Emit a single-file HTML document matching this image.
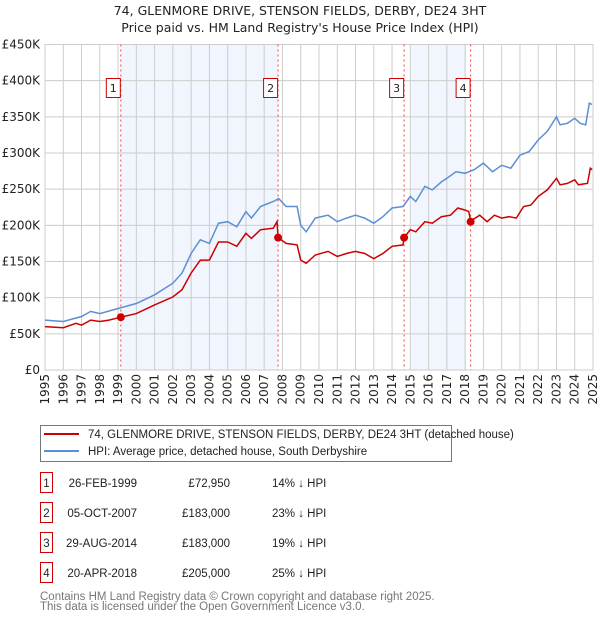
<!DOCTYPE html>
<html><head><meta charset="utf-8"><style>
body{margin:0;background:#fff;font-family:"DejaVu Sans","Liberation Sans",sans-serif;}
svg text{font-family:"DejaVu Sans","Liberation Sans",sans-serif;}
svg text.n{font-family:"Liberation Sans",sans-serif;}
</style></head><body>
<svg id="chart" width="600" height="620" xmlns="http://www.w3.org/2000/svg">
<text x="300" y="15" text-anchor="middle" font-size="12.5" fill="#222">74, GLENMORE DRIVE, STENSON FIELDS, DERBY, DE24 3HT</text>
<text x="300" y="32" text-anchor="middle" font-size="12.5" fill="#222">Price paid vs. HM Land Registry's House Price Index (HPI)</text>
<g id="plot"></g>
<g>
<rect x="40.5" y="425.5" width="411" height="36" fill="#fff" stroke="#777"/>
<line x1="44" y1="434" x2="79" y2="434" stroke="#cc0000" stroke-width="2"/>
<text class="n" x="88" y="438" font-size="11.5" fill="#222">74, GLENMORE DRIVE, STENSON FIELDS, DERBY, DE24 3HT (detached house)</text>
<line x1="44" y1="451" x2="79" y2="451" stroke="#5b8fd4" stroke-width="2"/>
<text class="n" x="88" y="455" font-size="11.5" fill="#222">HPI: Average price, detached house, South Derbyshire</text>
</g>
<g id="table"></g>
<text class="n" x="40" y="600" font-size="11.5" fill="#777">Contains HM Land Registry data © Crown copyright and database right 2025.</text>
<text class="n" x="40" y="610" font-size="11.5" fill="#777">This data is licensed under the Open Government Licence v3.0.</text>
</svg>
<script>
const hpiYears=[1995,1996,1997,1997.5,1998,1999,2000,2001,2002,2002.5,2003,2003.5,2004,2004.5,2005,2005.5,2006,2006.3,2006.8,2007.5,2007.8,2008.2,2008.8,2009,2009.3,2009.8,2010.5,2011,2011.5,2012,2012.5,2013,2013.5,2014,2014.6,2015,2015.3,2015.8,2016.2,2016.7,2017,2017.5,2018,2018.5,2019,2019.5,2020,2020.5,2021,2021.5,2022,2022.5,2023,2023.2,2023.6,2024,2024.3,2024.6,2024.8,2024.95];
const hpiValues=[69,67,74,81,78,85,92,104,120,134,161,180,175,203,205,198,219,210,226,233,237,226,226,200,191,210,214,205,210,214,210,203,212,224,226,240,233,254,249,260,265,274,272,277,286,274,283,279,297,302,318,330,350,339,341,348,341,339,369,367];
const propYears=[1995,1996,1996.7,1997,1997.5,1998,1998.5,1999.15,2000,2001,2002,2002.5,2003,2003.5,2004,2004.5,2005,2005.5,2006,2006.3,2006.8,2007.5,2007.7,2007.76,2008.2,2008.8,2009,2009.3,2009.8,2010.5,2011,2011.5,2012,2012.5,2013,2013.5,2014,2014.6,2014.66,2015,2015.3,2015.8,2016.2,2016.7,2017.2,2017.6,2018,2018.2,2018.3,2018.8,2019.2,2019.6,2020,2020.4,2020.8,2021.2,2021.6,2022,2022.5,2023,2023.2,2023.6,2024,2024.2,2024.7,2024.85,2024.95];
const propValues=[60,58.5,64.5,62,69,67,69,73,78,90,101,111,134,152,152,177,177,171,189,182,194,196,205,183,175,173,152,147.5,159,164,157,161,164,161,154,161,171,173,183,194,191,205,203,212,214,224,221,219,206,214,205,214,210,212,210,226,228,240,249,265,256,258,263,256,258,279,277];
const saleLabels=["1","2","3","4"];
const saleYears=[1999.15,2007.76,2014.66,2018.3];
const saleValues=[72.95,183,183,205];
const saleDates=["26-FEB-1999","05-OCT-2007","29-AUG-2014","20-APR-2018"];
const salePrices=["£72,950","£183,000","£183,000","£205,000"];
const saleDiffs=["14% ↓ HPI","23% ↓ HPI","19% ↓ HPI","25% ↓ HPI"];
const shadeRanges=[[1999.15,2007.76],[2015.05,2018.05]];
const yTicks=[0,50,100,150,200,250,300,350,400,450];
const yTickLabels=["£0","£50K","£100K","£150K","£200K","£250K","£300K","£350K","£400K","£450K"];
const xTicks=[1995,1996,1997,1998,1999,2000,2001,2002,2003,2004,2005,2006,2007,2008,2009,2010,2011,2012,2013,2014,2015,2016,2017,2018,2019,2020,2021,2022,2023,2024,2025];

const L=45,R=593,T=44.5,B=370;
const X=y=>L+(y-1995)*(R-L)/30;
const Y=v=>B-v*(B-T)/450;
const NS="http://www.w3.org/2000/svg";
const plot=document.getElementById('plot');
function mk(tag,attrs,parent){const e=document.createElementNS(NS,tag);for(const k in attrs)e.setAttribute(k,attrs[k]);(parent||plot).appendChild(e);return e;}

shadeRanges.forEach(r=>{const e=mk('rect',{x:X(r[0]),y:T,width:X(r[1])-X(r[0]),height:B-T,fill:'#eef3fc',opacity:0.8});

});
yTicks.forEach((t,i)=>{const l=mk('line',{x1:L,x2:R,y1:Y(t),y2:Y(t),stroke:'#cccccc'});


const tx=mk('text',{x:40,y:Y(t)+4,'text-anchor':'end','font-size':12,fill:'#222'});tx.textContent=yTickLabels[i];

});
xTicks.forEach(t=>{const l=mk('line',{x1:X(t),x2:X(t),y1:T,y2:B,stroke:'#cccccc'});


const tx=mk('text',{x:0,y:0,'text-anchor':'end','font-size':12,fill:'#222',transform:`translate(${X(t)+4},374) rotate(-90)`});tx.textContent=t;

});
mk('rect',{x:L,y:T,width:R-L,height:B-T,fill:'none',stroke:'#cccccc'});

saleYears.forEach((s,i)=>{const l=mk('line',{x1:X(s),x2:X(s),y1:T,y2:B,stroke:'#ee4444','stroke-dasharray':'2,3','stroke-width':1});


const g=mk('g',{});


mk('rect',{x:X(s)-14.5,y:78.5,width:14,height:19,fill:'#fff',stroke:'#cc0000'},g);
const tx=mk('text',{x:X(s)-7.5,y:92,'text-anchor':'middle','font-size':11,fill:'#222'},g);tx.textContent=saleLabels[i];});

function path(xs,vs){return xs.map((x,i)=>(i?'L':'M')+X(x).toFixed(1)+','+Y(vs[i]).toFixed(1)).join('');}
const hp=mk('path',{d:path(hpiYears,hpiValues),fill:'none',stroke:'#5b8fd4','stroke-width':1.5});


const pp=mk('path',{d:path(propYears,propValues),fill:'none',stroke:'#cc0000','stroke-width':1.5});


saleYears.forEach((s,i)=>{const c=mk('circle',{cx:X(s),cy:Y(saleValues[i]),r:4,fill:'#cc0000'});

});

const tb=document.getElementById('table');
const rowY=[483,513,543,573];
saleLabels.forEach((lab,i)=>{const y=rowY[i];const g=mk('g',{},tb);


mk('rect',{x:40.5,y:y-10.5,width:12,height:20,fill:'#fff',stroke:'#cc0000'},g);
let t=mk('text',{class:'n',x:46.5,y:y+4,'text-anchor':'middle','font-size':11.5,fill:'#222'},g);t.textContent=lab;
t=mk('text',{class:'n',x:137,y:y+4,'text-anchor':'end','font-size':11.5,fill:'#222'},g);t.textContent=saleDates[i];
t=mk('text',{class:'n',x:230,y:y+4,'text-anchor':'end','font-size':11.5,fill:'#222'},g);t.textContent=salePrices[i];
t=mk('text',{class:'n',x:272,y:y+4,'font-size':11.5,fill:'#222'},g);t.textContent=saleDiffs[i];});
</script>
</body></html>
